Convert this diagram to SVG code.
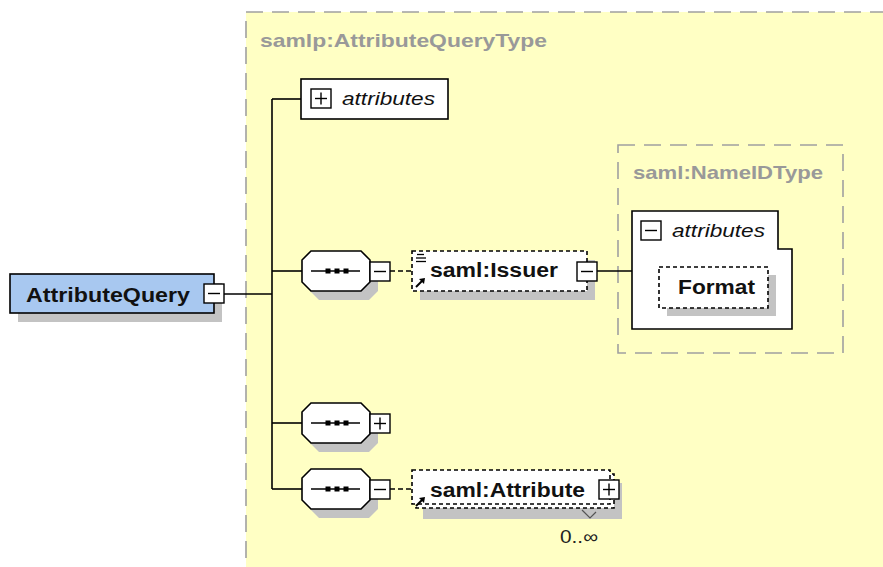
<svg xmlns="http://www.w3.org/2000/svg" width="883" height="567" viewBox="0 0 883 567">
<style>
.ln{stroke:#000;stroke-width:1.6;fill:none}
.dl{stroke:#000;stroke-width:1.6;fill:none;stroke-dasharray:5 3}
.box{fill:#fff;stroke:#000;stroke-width:1.6}
.dbox{fill:#fff;stroke:#000;stroke-width:1.6;stroke-dasharray:4 3}
.sh{fill:#c3c3c3;stroke:none}
.btn{fill:#fff;stroke:#000;stroke-width:1.4}
.cont{fill:#ffffc4;stroke:#a0a0a0;stroke-width:1.6;stroke-dasharray:17 9}
.title{font-family:"Liberation Sans",Arial,sans-serif;font-weight:bold;font-size:18.5px;fill:#999}
.name{font-family:"Liberation Sans",Arial,sans-serif;font-weight:bold;font-size:19.5px;fill:#111}
.attr{font-family:"Liberation Sans",Arial,sans-serif;font-style:italic;font-size:18.5px;fill:#111}
.occ{font-family:"Liberation Sans",Arial,sans-serif;font-size:18px;fill:#222}
</style>
<defs>
<polygon id="oct" points="9,0 59,0 68,9 68,31 59,40 9,40 0,31 0,9"/>
<g id="seqsym">
<line x1="9" y1="20" x2="58" y2="20" stroke="#000" stroke-width="1.6"/>
<rect x="23.5" y="17.5" width="5" height="5" fill="#000"/>
<rect x="32.5" y="17.5" width="5" height="5" fill="#000"/>
<rect x="41.5" y="17.5" width="5" height="5" fill="#000"/>
</g>
<g id="minus"><rect class="btn" x="0" y="0" width="20" height="19"/><line x1="4" y1="9.5" x2="16" y2="9.5" stroke="#000" stroke-width="1.4"/></g>
<g id="plus"><rect class="btn" x="0" y="0" width="20" height="19"/><line x1="4" y1="9.5" x2="16" y2="9.5" stroke="#000" stroke-width="1.4"/><line x1="10" y1="3.5" x2="10" y2="15.5" stroke="#000" stroke-width="1.4"/></g>
<g id="refarrow"><line x1="0" y1="9" x2="6" y2="3" stroke="#000" stroke-width="2"/><polygon points="9,0 3,1 8,6" fill="#000"/></g>
</defs>

<rect width="883" height="567" fill="#fff"/>

<g id="container-AttributeQueryType">
<rect class="cont" x="246" y="12" width="700" height="600"/>
<text class="title" x="260" y="47" textLength="287" lengthAdjust="spacingAndGlyphs">samlp:AttributeQueryType</text>
</g>

<g id="container-NameIDType">
<rect class="cont" x="618" y="145" width="225" height="208" fill="none"/>
<text class="title" x="633" y="179" textLength="190" lengthAdjust="spacingAndGlyphs">saml:NameIDType</text>
</g>

<g id="connectors">
<line class="ln" x1="224" y1="294" x2="272" y2="294"/>
<line class="ln" x1="272" y1="99" x2="272" y2="489"/>
<line class="ln" x1="272" y1="99" x2="301" y2="99"/>
<line class="ln" x1="272" y1="271" x2="302" y2="271"/>
<line class="ln" x1="272" y1="423" x2="302" y2="423"/>
<line class="ln" x1="272" y1="489" x2="302" y2="489"/>
<line class="dl" x1="390" y1="271" x2="412" y2="271"/>
<line class="dl" x1="390" y1="489" x2="412" y2="489"/>
<line class="ln" x1="597" y1="271" x2="632" y2="271"/>
</g>

<g id="AttributeQuery">
<rect class="sh" x="18" y="283" width="204" height="39"/>
<rect x="10" y="274" width="204" height="39" fill="#a8c8f0" stroke="#000" stroke-width="1.6"/>
<text class="name" x="26" y="302" font-size="21" textLength="164" lengthAdjust="spacingAndGlyphs">AttributeQuery</text>
<use href="#minus" x="204" y="284"/>
</g>

<g id="attributes-top">
<rect class="box" x="301" y="79" width="147" height="40"/>
<use href="#plus" x="311" y="89"/>
<text class="attr" x="342" y="105" textLength="93" lengthAdjust="spacingAndGlyphs">attributes</text>
</g>

<g id="sequence-1">
<use href="#oct" x="310" y="260" class="sh"/>
<use href="#oct" x="302" y="251" fill="#fff" stroke="#000" stroke-width="1.6"/>
<use href="#seqsym" x="302" y="251"/>
<use href="#minus" x="370" y="262"/>
</g>

<g id="saml-Issuer">
<rect class="sh" x="420" y="260" width="175" height="40"/>
<rect class="dbox" x="412" y="251" width="175" height="40"/>
<line x1="417" y1="254.5" x2="424" y2="254.5" stroke="#000" stroke-width="1.3"/>
<line x1="416" y1="258" x2="426" y2="258" stroke="#000" stroke-width="1.3"/>
<line x1="416" y1="261.5" x2="426" y2="261.5" stroke="#000" stroke-width="1.3"/>
<use href="#refarrow" x="416" y="278"/>
<text class="name" x="430" y="277" textLength="128" lengthAdjust="spacingAndGlyphs">saml:Issuer</text>
<use href="#minus" x="577" y="262"/>
</g>

<g id="NameIDType-attributes">
<path class="box" d="M632,211 H778 V249 H792 V329 H632 Z"/>
<use href="#minus" x="641" y="221"/>
<text class="attr" x="672" y="237" textLength="93" lengthAdjust="spacingAndGlyphs">attributes</text>
</g>

<g id="Format">
<rect class="sh" x="667" y="275" width="109" height="41"/>
<rect class="dbox" x="659" y="267" width="109" height="41"/>
<text class="name" x="678" y="294" textLength="77" lengthAdjust="spacingAndGlyphs">Format</text>
</g>

<g id="sequence-2">
<use href="#oct" x="310" y="412" class="sh"/>
<use href="#oct" x="302" y="403" fill="#fff" stroke="#000" stroke-width="1.6"/>
<use href="#seqsym" x="302" y="403"/>
<use href="#plus" x="370" y="414"/>
</g>

<g id="sequence-3">
<use href="#oct" x="310" y="478" class="sh"/>
<use href="#oct" x="302" y="469" fill="#fff" stroke="#000" stroke-width="1.6"/>
<use href="#seqsym" x="302" y="469"/>
<use href="#minus" x="370" y="480"/>
</g>

<g id="saml-Attribute">
<rect class="sh" x="423" y="483" width="199" height="36"/>
<rect class="dbox" x="416" y="474" width="198" height="34"/>
<rect class="dbox" x="412" y="470" width="198" height="34"/>
<use href="#refarrow" x="416" y="497"/>
<text class="name" x="430" y="497" textLength="155" lengthAdjust="spacingAndGlyphs">saml:Attribute</text>
<use href="#plus" x="599" y="480"/>
<polyline points="582,510 590,518 596,512" fill="none" stroke="#555" stroke-width="1.2"/>
<text class="occ" x="560" y="543" textLength="38" lengthAdjust="spacingAndGlyphs">0..∞</text>
</g>
</svg>
